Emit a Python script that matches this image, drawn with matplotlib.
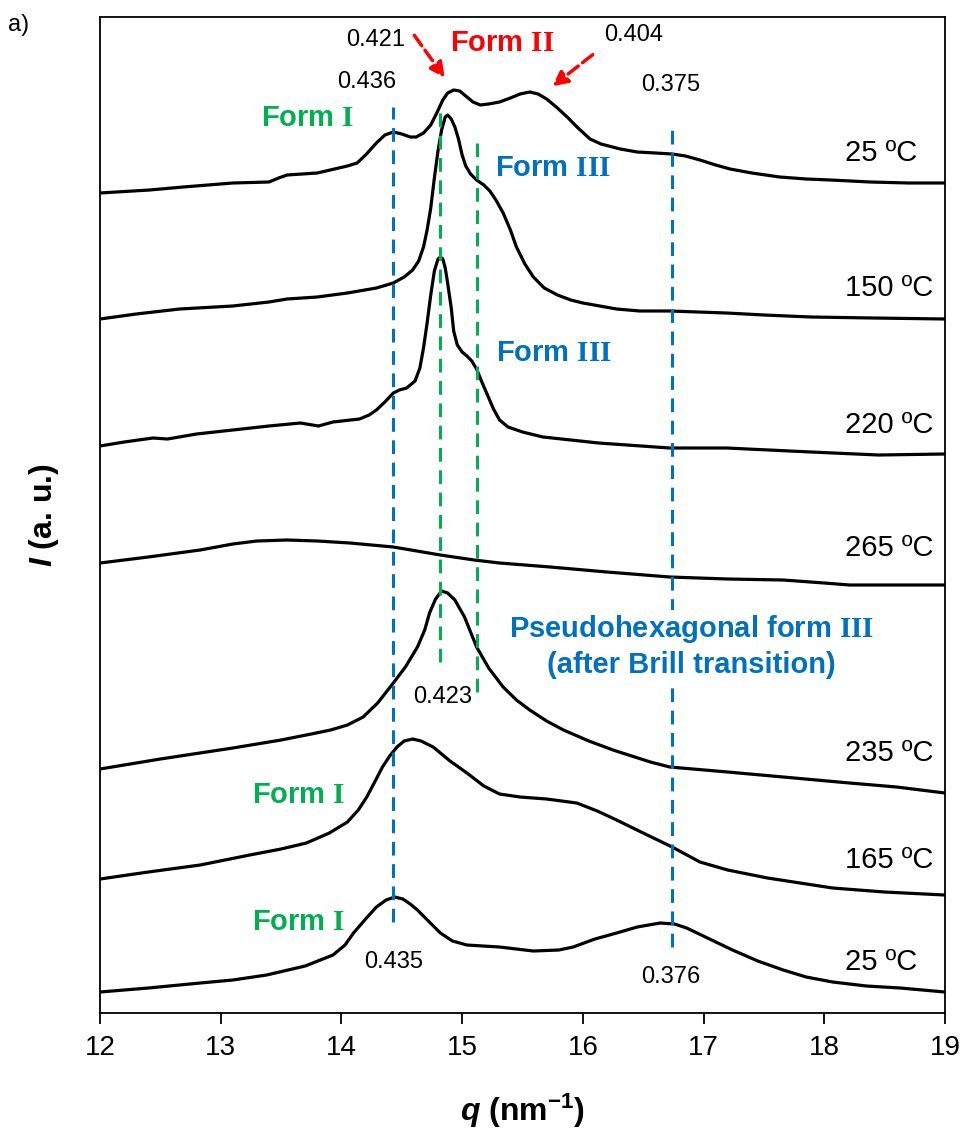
import numpy as np
import matplotlib
matplotlib.use("Agg")
import matplotlib.pyplot as plt

plt.rcParams['font.family'] = ['Liberation Sans', 'DejaVu Sans']
plt.rcParams['mathtext.fontset'] = 'custom'
plt.rcParams['mathtext.rm'] = 'Liberation Sans:bold'
plt.rcParams['mathtext.it'] = 'Liberation Sans:italic:bold'
plt.rcParams['mathtext.bf'] = 'Liberation Serif:bold'

# WAXS profiles, stacked (I already offset, a.u.)
q_25a = [12.00, 12.41, 12.69, 13.10, 13.40, 13.48, 13.55, 13.80, 14.05, 14.13, 14.20, 14.29, 14.36, 14.43,
         14.50, 14.57, 14.62, 14.68, 14.74, 14.79, 14.84, 14.88, 14.93, 14.98, 15.03, 15.09, 15.15,
         15.22, 15.31, 15.40, 15.48, 15.56, 15.63, 15.70, 15.78, 15.87, 15.96, 16.06, 16.15, 16.31,
         16.45, 16.60, 16.74, 16.85, 16.97, 17.10, 17.22, 17.40, 17.63, 17.85, 18.05, 18.38, 18.70, 19.00]
I_25a = [820, 823, 826, 830, 831, 835, 838, 840, 847, 850, 858, 870, 878, 881,
         879, 876, 876, 880, 888, 900, 913, 920, 923, 922, 917, 911, 908,
         909, 911, 915, 919, 921, 919, 914, 906, 896, 885, 874, 869, 864,
         861, 860, 859, 857, 853, 848, 844, 840, 836, 834, 833, 831, 830, 830]

q_150 = [12.00, 12.30, 12.66, 13.10, 13.40, 13.55, 13.80, 14.05, 14.29, 14.43, 14.52, 14.59, 14.64,
         14.68, 14.71, 14.74, 14.77, 14.80, 14.83, 14.86, 14.88, 14.91, 14.94, 14.97, 15.00, 15.03,
         15.07, 15.12, 15.18, 15.23, 15.28, 15.34, 15.40, 15.45, 15.52, 15.59, 15.68, 15.79, 15.90,
         16.00, 16.28, 16.47, 16.72, 17.19, 17.50, 17.89, 18.40, 19.00]
I_150 = [694, 699, 704, 707, 711, 714, 716, 720, 725, 730, 736, 743, 752,
         766, 783, 805, 835, 862, 883, 896, 898, 894, 886, 874, 858, 847,
         839, 833, 828, 822, 813, 800, 783, 766, 749, 736, 725, 718, 713,
         710, 704, 702, 702, 700, 698, 696, 695, 694]

q_220 = [12.00, 12.20, 12.44, 12.56, 12.80, 13.10, 13.40, 13.66, 13.81, 13.93, 14.15, 14.23, 14.29,
         14.36, 14.43, 14.48, 14.54, 14.61, 14.65, 14.68, 14.71, 14.74, 14.77, 14.80, 14.82, 14.84,
         14.86, 14.88, 14.91, 14.93, 14.96, 15.00, 15.04, 15.08, 15.12, 15.16, 15.21, 15.26, 15.31,
         15.38, 15.50, 15.67, 16.13, 16.72, 17.19, 17.89, 18.45, 19.00]
I_220 = [567, 571, 575, 574, 579, 583, 587, 590, 587, 591, 594, 598, 603,
         611, 620, 623, 625, 632, 645, 665, 690, 718, 742, 754, 756, 754,
         745, 730, 705, 682, 668, 661, 657, 652, 644, 632, 618, 604, 593,
         586, 581, 576, 570, 565, 565, 561, 558, 559]

q_265 = [12.00, 12.40, 12.83, 13.10, 13.30, 13.55, 13.80, 14.07, 14.43, 14.82, 15.10, 15.31, 15.73,
         16.20, 16.72, 17.20, 17.66, 18.00, 18.21, 18.60, 19.00]
I_265 = [450, 456, 463, 469, 472, 473, 472, 470, 466, 458, 453, 450, 446,
         441, 436, 434, 433, 430, 428, 428, 428]

q_235 = [12.00, 12.50, 13.10, 13.50, 13.75, 13.91, 14.05, 14.18, 14.30, 14.43, 14.53, 14.63, 14.69,
         14.73, 14.78, 14.83, 14.88, 14.94, 15.02, 15.12, 15.22, 15.34, 15.45, 15.56, 15.70, 15.84,
         16.05, 16.25, 16.56, 16.72, 17.20, 17.66, 18.21, 18.60, 19.00]
I_235 = [244, 254, 265, 273, 279, 283, 288, 296, 310, 330, 346, 366, 383,
         400, 414, 422, 420, 413, 396, 366, 345, 326, 313, 303, 292, 283,
         272, 263, 251, 246, 241, 236, 230, 226, 220]

q_165 = [12.00, 12.40, 12.83, 13.24, 13.50, 13.71, 13.90, 14.05, 14.14, 14.21, 14.28, 14.34, 14.40,
         14.46, 14.52, 14.59, 14.66, 14.76, 14.90, 15.04, 15.18, 15.31, 15.48, 15.70, 15.95, 16.12,
         16.28, 16.50, 16.74, 16.97, 17.20, 17.53, 18.07, 18.50, 19.00]
I_165 = [134, 141, 148, 158, 164, 170, 180, 191, 203, 216, 232, 246, 257,
         266, 272, 274, 272, 266, 252, 240, 227, 219, 216, 214, 210, 202,
         193, 180, 166, 151, 143, 135, 125, 121, 118]

q_25b = [12.00, 12.40, 12.83, 13.10, 13.38, 13.70, 13.93, 14.03, 14.10, 14.20, 14.29, 14.37, 14.44,
         14.51, 14.57, 14.63, 14.72, 14.82, 14.92, 15.04, 15.31, 15.59, 15.80, 15.92, 16.10, 16.28,
         16.45, 16.64, 16.76, 16.86, 17.05, 17.24, 17.45, 17.66, 17.85, 18.07, 18.35, 18.63, 19.00]
I_25b = [21, 25, 30, 33, 38, 47, 58, 68, 80, 94, 106, 113, 116,
         114, 109, 103, 92, 80, 72, 68, 66, 62, 63, 66, 74, 80,
         86, 90, 89, 85, 74, 63, 52, 43, 36, 31, 27, 25, 21]

curves = [(q_25a, I_25a), (q_150, I_150), (q_220, I_220), (q_265, I_265),
          (q_235, I_235), (q_165, I_165), (q_25b, I_25b)]
temps = ["25 ºC", "150 ºC", "220 ºC", "265 ºC", "235 ºC", "165 ºC", "25 ºC"]
temp_y = [860, 725, 588, 465, 260, 153, 51]

# reflection positions (q, ymin, ymax)
blue_q = [14.43, 16.74]
blue_lo = [91, 66]
blue_hi = [906, 890]
green_q = [14.82, 15.12]
green_lo = [351, 321]
green_hi = [903, 870]

blue = '#0070C0'
green = '#00B050'

fig = plt.figure(figsize=(9.68, 11.33), dpi=100)
ax = fig.add_axes([0.1033, 0.1059, 0.8729, 0.8791])

for q, I in curves:
    ax.plot(q, I, color='black', lw=2.3, solid_joinstyle='round', solid_capstyle='round')

for q, lo, hi in zip(blue_q, blue_lo, blue_hi):
    ax.plot([q, q], [lo, hi], color=blue, lw=2.2, dashes=(4.5, 2.8))
for q, lo, hi in zip(green_q, green_lo, green_hi):
    ax.plot([q, q], [lo, hi], color=green, lw=2.2, dashes=(4.5, 2.8))

for t, y in zip(temps, temp_y):
    ax.text(18.17, y, t, fontsize=21, ha='left', va='center')

# d-spacing labels
ax.text(14.53, 973, "0.421", fontsize=17, ha='right', va='center')
ax.text(16.18, 978, "0.404", fontsize=17, ha='left', va='center')
ax.text(14.21, 931, "0.436", fontsize=17, ha='center', va='center')
ax.text(16.73, 928, "0.375", fontsize=17, ha='center', va='center')
ax.text(14.84, 316, "0.423", fontsize=17, ha='center', va='center')
ax.text(14.43, 51, "0.435", fontsize=17, ha='center', va='center')
ax.text(16.73, 36, "0.376", fontsize=17, ha='center', va='center')

ax.annotate("", xy=(14.87, 933), xytext=(14.59, 980),
            arrowprops=dict(arrowstyle='-|>', color='red', lw=2.5, ls='--', mutation_scale=22))
ax.annotate("", xy=(15.73, 925), xytext=(16.10, 960),
            arrowprops=dict(arrowstyle='-|>', color='red', lw=2.5, ls='--', mutation_scale=22))

ax.text(14.90, 970, r"Form $\mathbf{II}$", color='red', fontsize=21, fontweight='bold', ha='left', va='center')
ax.text(14.11, 895, r"Form $\mathbf{I}$", color=green, fontsize=21, fontweight='bold', ha='right', va='center')
ax.text(15.27, 845, r"Form $\mathbf{III}$", color=blue, fontsize=21, fontweight='bold', ha='left', va='center')
ax.text(15.28, 660, r"Form $\mathbf{III}$", color=blue, fontsize=21, fontweight='bold', ha='left', va='center')
ax.text(16.90, 367, "Pseudohexagonal form $\\mathbf{III}$\n(after Brill transition)", color=blue,
        fontsize=21, fontweight='bold', ha='center', va='center', linespacing=1.25,
        bbox=dict(facecolor='white', edgecolor='none', pad=1))
ax.text(14.03, 218, r"Form $\mathbf{I}$", color=green, fontsize=21, fontweight='bold', ha='right', va='center')
ax.text(14.03, 91, r"Form $\mathbf{I}$", color=green, fontsize=21, fontweight='bold', ha='right', va='center')

ax.set_xlim(12, 19)
ax.set_ylim(0, 996)
ax.set_xticks(range(12, 20))
ax.set_yticks([])
ax.tick_params(axis='x', direction='out', length=8, width=1.3, labelsize=20, pad=8)
for s in ax.spines.values():
    s.set_linewidth(1.3)

ax.set_xlabel(r"$q$ (nm$^{-1}$)", fontsize=23, fontweight='bold', labelpad=22)
ax.set_ylabel(r"$I$ (a. u.)", fontsize=23, fontweight='bold', labelpad=28)

fig.text(0.008, 0.978, "a)", fontsize=17, ha='left', va='center')

plt.savefig("out.png", dpi=100)
